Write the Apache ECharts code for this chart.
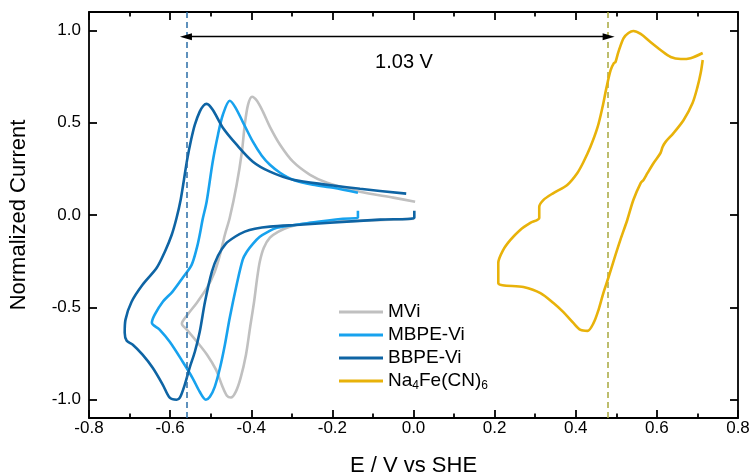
<!DOCTYPE html>
<html><head><meta charset="utf-8">
<script src="https://cdn.jsdelivr.net/npm/echarts@6/dist/echarts.min.js"></script>
<style>html,body{margin:0;padding:0;background:#fff}#c{width:751px;height:476px}</style>
</head><body><div id="c"></div>
<script>
// ---- data ----
const seriesNames = ['MVi', 'MBPE-Vi', 'BBPE-Vi', 'Na4Fe(CN)6'];
const xTickValues = [-0.8, -0.6, -0.4, -0.2, 0.0, 0.2, 0.4, 0.6, 0.8];
const yTickValues = [-1.0, -0.5, 0.0, 0.5, 1.0];
const refPotentials = [-0.555, 0.479];       // dashed reference lines (V)
const gapArrow = [[-0.561, 0.966], [0.481, 0.966]];
const gapLabel = '1.03 V';

const mvi = [[0.002,-0.020],[-0.132,-0.031],[-0.255,-0.042],[-0.305,-0.063],[-0.334,-0.091],[-0.354,-0.123],[-0.369,-0.177],[-0.379,-0.253],[-0.386,-0.351],[-0.393,-0.470],[-0.403,-0.611],[-0.413,-0.757],[-0.426,-0.881],[-0.438,-0.957],[-0.450,-0.989],[-0.460,-0.979],[-0.472,-0.924],[-0.487,-0.838],[-0.509,-0.757],[-0.534,-0.686],[-0.559,-0.621],[-0.571,-0.589],[-0.557,-0.540],[-0.534,-0.475],[-0.509,-0.394],[-0.490,-0.307],[-0.477,-0.215],[-0.465,-0.107],[-0.453,-0.015],[-0.436,0.164],[-0.423,0.343],[-0.416,0.489],[-0.408,0.597],[-0.398,0.641],[-0.386,0.619],[-0.371,0.559],[-0.354,0.478],[-0.329,0.381],[-0.297,0.289],[-0.255,0.218],[-0.213,0.175],[-0.132,0.126],[-0.050,0.094],[0.004,0.072]];

const mbpe = [[-0.137,0.023],[-0.137,-0.015],[-0.174,-0.020],[-0.255,-0.042],[-0.337,-0.069],[-0.359,-0.091],[-0.379,-0.118],[-0.396,-0.156],[-0.411,-0.199],[-0.421,-0.242],[-0.436,-0.378],[-0.453,-0.557],[-0.465,-0.703],[-0.477,-0.828],[-0.490,-0.931],[-0.502,-0.985],[-0.512,-1.001],[-0.527,-0.958],[-0.545,-0.882],[-0.569,-0.795],[-0.601,-0.687],[-0.626,-0.621],[-0.645,-0.584],[-0.638,-0.540],[-0.618,-0.470],[-0.594,-0.415],[-0.569,-0.340],[-0.547,-0.270],[-0.534,-0.177],[-0.527,-0.107],[-0.520,-0.025],[-0.510,0.072],[-0.495,0.289],[-0.482,0.435],[-0.470,0.543],[-0.453,0.619],[-0.440,0.586],[-0.421,0.505],[-0.396,0.397],[-0.374,0.321],[-0.354,0.272],[-0.329,0.229],[-0.297,0.191],[-0.248,0.164],[-0.198,0.148],[-0.137,0.121]];

const bbpe = [[0.002,0.023],[0.002,-0.015],[-0.082,-0.025],[-0.206,-0.042],[-0.280,-0.053],[-0.354,-0.063],[-0.391,-0.074],[-0.416,-0.090],[-0.440,-0.118],[-0.463,-0.156],[-0.482,-0.221],[-0.497,-0.307],[-0.514,-0.470],[-0.527,-0.633],[-0.539,-0.741],[-0.552,-0.828],[-0.564,-0.920],[-0.576,-0.990],[-0.584,-1.001],[-0.601,-0.990],[-0.618,-0.920],[-0.643,-0.828],[-0.668,-0.757],[-0.692,-0.703],[-0.707,-0.681],[-0.712,-0.638],[-0.710,-0.567],[-0.695,-0.470],[-0.668,-0.378],[-0.633,-0.286],[-0.613,-0.199],[-0.596,-0.107],[-0.584,-0.015],[-0.574,0.083],[-0.566,0.190],[-0.558,0.300],[-0.548,0.410],[-0.539,0.490],[-0.527,0.560],[-0.518,0.592],[-0.510,0.602],[-0.495,0.570],[-0.470,0.473],[-0.436,0.381],[-0.396,0.289],[-0.354,0.235],[-0.297,0.191],[-0.213,0.164],[-0.132,0.142],[-0.018,0.116]];

const nafe = [[0.713,0.840],[0.708,0.769],[0.700,0.693],[0.688,0.607],[0.666,0.515],[0.641,0.444],[0.621,0.395],[0.614,0.368],[0.609,0.336],[0.592,0.282],[0.577,0.228],[0.567,0.190],[0.560,0.173],[0.542,0.081],[0.527,-0.027],[0.510,-0.135],[0.494,-0.244],[0.481,-0.336],[0.468,-0.423],[0.456,-0.515],[0.444,-0.585],[0.429,-0.628],[0.412,-0.623],[0.394,-0.585],[0.369,-0.525],[0.345,-0.477],[0.313,-0.423],[0.271,-0.390],[0.209,-0.368],[0.209,-0.260],[0.221,-0.190],[0.239,-0.135],[0.263,-0.081],[0.288,-0.043],[0.310,-0.016],[0.310,0.043],[0.320,0.081],[0.345,0.119],[0.379,0.163],[0.404,0.228],[0.419,0.287],[0.436,0.368],[0.454,0.477],[0.466,0.585],[0.476,0.693],[0.486,0.785],[0.494,0.823],[0.498,0.829],[0.505,0.883],[0.518,0.959],[0.530,0.986],[0.542,0.997],[0.560,0.981],[0.584,0.937],[0.609,0.894],[0.634,0.856],[0.659,0.845],[0.683,0.850],[0.713,0.878]];

const seriesData = [mvi, mbpe, bbpe, nafe];
const colors = ['#c0c0c0', '#17a2ee', '#0e64a4', '#e8b20a'];
const refColors = ['#2a6ea6', '#a8a83e'];

// ---- chart ----
const FONT = 'Liberation Sans, Arial, sans-serif';
const chart = echarts.init(document.getElementById('c'));
function ls() { return {color: '#000', width: 1.8}; }
function xAx(pos, showLabel) {
  return {
    type: 'value', position: pos, min: -0.8, max: 0.8, interval: 0.2,
    axisLine: {show: true, onZero: false, lineStyle: ls()},
    axisTick: {show: true, inside: true, length: 8, lineStyle: ls()},
    minorTick: {show: true, splitNumber: 2, length: 4.5, lineStyle: ls()},
    splitLine: {show: false},
    axisLabel: {show: showLabel, fontSize: 17, color: '#000', fontFamily: FONT, margin: 2,
      formatter: v => (+v).toFixed(1)},
    name: showLabel ? 'E / V vs SHE' : '', nameLocation: 'middle', nameGap: 37,
    nameTextStyle: {fontSize: 22, color: '#000', fontFamily: FONT}
  };
}
function yAx(pos, showLabel) {
  return {
    type: 'value', position: pos, min: -1.1, max: 1.1,
    axisLine: {show: true, onZero: false, lineStyle: ls()},
    axisTick: {show: true, inside: true, length: 8, lineStyle: ls(), customValues: yTickValues.slice()},
    splitLine: {show: false},
    axisLabel: {show: showLabel, fontSize: 17, color: '#000', fontFamily: FONT, margin: 8,
      customValues: yTickValues.slice(), formatter: v => (+v).toFixed(1)},
    name: showLabel ? 'Normalized Current' : '', nameLocation: 'middle', nameGap: 59,
    nameTextStyle: {fontSize: 22, color: '#000', fontFamily: FONT}
  };
}

const series = seriesNames.map((n, i) => ({
  name: n, type: 'line', data: seriesData[i], symbol: 'none', showSymbol: false,
  smooth: 0.3, lineStyle: {color: colors[i], width: 2.6}, itemStyle: {color: colors[i]},
  z: 2 + i, silent: true
}));
series.push({
  name: 'refs', type: 'line', data: [], symbol: 'none', silent: true,
  markLine: {
    silent: true, symbol: ['none', 'none'], label: {show: false},
    data: refPotentials.map((v, i) => ({xAxis: v, lineStyle: {color: refColors[i], type: [6, 4], width: 1.5}}))
  }, z: 10
});
series.push({
  name: 'gap', type: 'line', data: [], symbol: 'none', silent: true,
  markLine: {
    silent: true, symbol: ['triangle', 'triangle'], symbolSize: [7, 12], label: {show: false},
    lineStyle: {color: '#000', type: 'solid', width: 1.3},
    data: [[{coord: gapArrow[0]}, {coord: gapArrow[1]}]]
  }, z: 11
});

chart.setOption({
  animation: false,
  backgroundColor: '#fff',
  grid: {left: 89, right: 13, top: 12, bottom: 58, outerBoundsMode: 'none', containLabel: false},
  xAxis: [xAx('bottom', true), xAx('top', false)],
  yAxis: [yAx('left', true), yAx('right', false)],
  legend: {
    data: seriesNames.map(n => ({name: n, icon: 'rect'})),
    orient: 'vertical', left: 334, top: 296, itemWidth: 44, itemHeight: 3, itemGap: 1,
    selectedMode: false,
    formatter: n => n === 'Na4Fe(CN)6' ? 'Na{sub|4}Fe(CN){sub|6}' : n,
    textStyle: {fontSize: 19, color: '#000', fontFamily: FONT, lineHeight: 22,
      rich: {sub: {fontSize: 12, lineHeight: 12, padding: [10, 0, 0, 0], fontFamily: FONT, color: '#000'}}}
  },
  graphic: [{
    type: 'text', x: 404, y: 62,
    style: {text: gapLabel, font: '20px ' + FONT, fill: '#000', align: 'center', verticalAlign: 'middle'}
  }],
  series: series
});
</script>
</body></html>
